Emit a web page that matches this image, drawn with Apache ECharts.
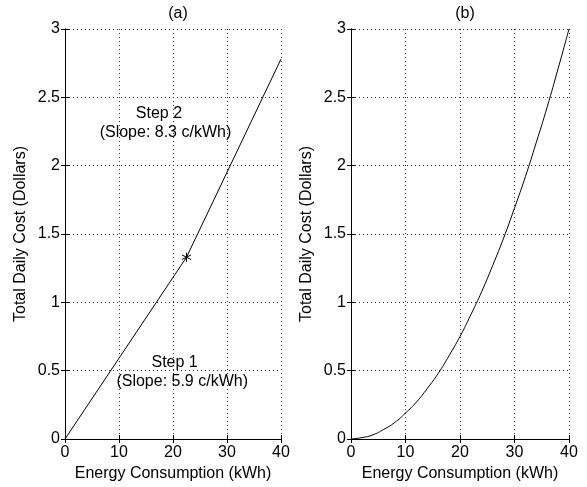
<!DOCTYPE html>
<html><head><meta charset="utf-8">
<script src="https://cdn.jsdelivr.net/npm/echarts@6/dist/echarts.min.js"></script>
<style>html,body{margin:0;padding:0;background:#fff}#c{width:587px;height:487px}</style>
</head><body><div id="c"></div>
<script>
// ---- data ----
const xTicks = [0, 10, 20, 30, 40];
const yTicks = [0, 0.5, 1, 1.5, 2, 2.5, 3];
const stepX = [0, 22.5, 40];
const stepY = [0, 1.33, 2.78];
const breakX = [22.5];
const breakY = [1.33];
const quadX = [0,2,4,6,8,10,12,14,16,18,20,22,24,26,28,30,32,34,36,38,40];
const quadY = [0,0.01,0.03,0.07,0.12,0.19,0.27,0.37,0.48,0.61,0.75,0.91,1.08,1.27,1.47,1.69,1.92,2.17,2.43,2.71,3.0];
const titles = ['(a)', '(b)'];
const xName = 'Energy Consumption (kWh)';
const yName = 'Total Daily Cost (Dollars)';
const notes = [
  {x: 17.4, y: 2.38, t: 'Step 2'},
  {x: 18.6, y: 2.24, t: '(Slope: 8.3 c/kWh)'},
  {x: 20.3, y: 0.56, t: 'Step 1'},
  {x: 21.7, y: 0.42, t: '(Slope: 5.9 c/kWh)'}
];

const FONT = 'Liberation Sans, Arial, Helvetica, sans-serif';
const chart = echarts.init(document.getElementById('c'), null, {renderer: 'canvas'});
const grids = [
  {left: 65, right: 306, top: 29, bottom: 48},
  {left: 351, right: 18, top: 29, bottom: 48}
];
const gridLine = {show: true, lineStyle: {type: [1, 3], color: '#333', width: 1}};
const tickIn = {show: true, inside: true, length: 4, lineStyle: {color: '#000'}};
const axLine = {show: true, lineStyle: {color: '#000', width: 1}};
const xAxes = [], yAxes = [];
[0, 1].forEach(g => {
  xAxes.push({type: 'value', gridIndex: g, min: xTicks[0], max: xTicks[xTicks.length-1], interval: 10,
    name: xName, nameLocation: 'middle', nameGap: 26,
    nameTextStyle: {fontFamily: FONT, fontSize: 16, color: '#000'},
    axisLabel: {fontFamily: FONT, fontSize: 16, color: '#000', margin: 6},
    axisLine: axLine, axisTick: tickIn, splitLine: gridLine});
  xAxes.push({type: 'value', gridIndex: g, position: 'top', min: 0, max: 40, interval: 10,
    axisLabel: {show: false}, axisLine: axLine, axisTick: tickIn, splitLine: {show: false}});
  yAxes.push({type: 'value', gridIndex: g, min: yTicks[0], max: yTicks[yTicks.length-1], interval: 0.5,
    name: yName, nameLocation: 'middle', nameGap: 36,
    nameTextStyle: {fontFamily: FONT, fontSize: 16, color: '#000'},
    axisLabel: {fontFamily: FONT, fontSize: 16, color: '#000', margin: 5},
    axisLine: axLine, axisTick: tickIn, splitLine: gridLine});
  yAxes.push({type: 'value', gridIndex: g, position: 'right', min: 0, max: 3, interval: 0.5,
    axisLabel: {show: false}, axisLine: axLine, axisTick: tickIn, splitLine: {show: false}});
});
const asterisk = 'path://M0,-5L0,5M-4.33,-2.5L4.33,2.5M-4.33,2.5L4.33,-2.5';
chart.setOption({
  animation: false,
  title: titles.map((t, i) => ({text: t, left: i === 0 ? 173 : 460, top: 1, textAlign: 'center',
    textStyle: {fontFamily: FONT, fontSize: 16, fontWeight: 'normal', color: '#000'}})),
  grid: grids,
  xAxis: xAxes,
  yAxis: yAxes,
  series: [
    {type: 'line', xAxisIndex: 0, yAxisIndex: 0, data: stepX.map((x, i) => [x, stepY[i]]),
      showSymbol: false, lineStyle: {color: '#000', width: 1}},
    {type: 'scatter', xAxisIndex: 0, yAxisIndex: 0, data: breakX.map((x, i) => [x, breakY[i]]),
      symbol: asterisk, symbolSize: 9, itemStyle: {color: 'none', borderColor: '#000', borderWidth: 1, opacity: 1}},
    {type: 'scatter', xAxisIndex: 0, yAxisIndex: 0, symbolSize: 0, itemStyle: {opacity: 1},
      data: notes.map(n => ({value: [n.x, n.y], label: {show: true, formatter: n.t, position: 'inside',
        fontFamily: FONT, fontSize: 16, color: '#000'}})),
      silent: true},
    {type: 'line', xAxisIndex: 2, yAxisIndex: 2, data: quadX.map((x, i) => [x, quadY[i]]),
      showSymbol: false, smooth: true, lineStyle: {color: '#000', width: 1}}
  ]
});
</script></body></html>
